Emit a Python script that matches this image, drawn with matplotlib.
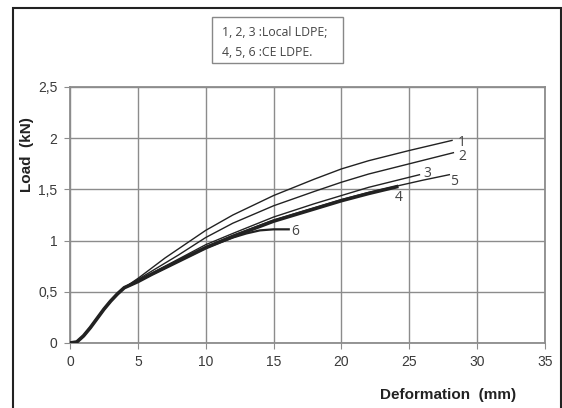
import matplotlib
matplotlib.use("Agg")
import matplotlib.pyplot as plt
from matplotlib.patches import Rectangle

# load-deformation curves
x1 = [0, 0.5, 1, 1.5, 2, 2.5, 3, 3.5, 4, 5, 6, 7, 8, 10, 12, 15, 18, 20, 22, 25, 28.2]
y1 = [0, 0.01, 0.07, 0.15, 0.24, 0.33, 0.41, 0.48, 0.54, 0.63, 0.73, 0.83, 0.92, 1.10, 1.25, 1.44, 1.60, 1.70, 1.78, 1.88, 1.98]

x2 = [0, 0.5, 1, 1.5, 2, 2.5, 3, 3.5, 4, 5, 6, 7, 8, 10, 12, 15, 18, 20, 22, 25, 28.3]
y2 = [0, 0.01, 0.07, 0.15, 0.24, 0.33, 0.41, 0.48, 0.54, 0.62, 0.70, 0.78, 0.86, 1.03, 1.17, 1.34, 1.48, 1.57, 1.65, 1.75, 1.86]

x3 = [0, 0.5, 1, 1.5, 2, 2.5, 3, 3.5, 4, 5, 6, 8, 10, 12, 15, 18, 20, 22, 25.8]
y3 = [0, 0.01, 0.07, 0.15, 0.24, 0.33, 0.41, 0.48, 0.54, 0.61, 0.68, 0.82, 0.96, 1.07, 1.23, 1.36, 1.44, 1.52, 1.645]

x4 = [0, 0.5, 1, 1.5, 2, 2.5, 3, 3.5, 4, 5, 6, 8, 10, 12, 15, 18, 20, 22, 24.2]
y4 = [0, 0.01, 0.07, 0.15, 0.24, 0.33, 0.41, 0.48, 0.54, 0.60, 0.67, 0.80, 0.93, 1.04, 1.19, 1.31, 1.39, 1.46, 1.53]

x5 = [0, 0.5, 1, 1.5, 2, 2.5, 3, 3.5, 4, 5, 6, 8, 10, 12, 15, 18, 20, 22, 24, 26, 28]
y5 = [0, 0.01, 0.07, 0.15, 0.24, 0.33, 0.41, 0.48, 0.54, 0.60, 0.67, 0.81, 0.94, 1.05, 1.20, 1.32, 1.40, 1.47, 1.53, 1.59, 1.645]

x6 = [0, 0.5, 1, 1.5, 2, 2.5, 3, 3.5, 4, 5, 6, 8, 10, 12, 13, 14, 15, 16.2]
y6 = [0, 0.01, 0.07, 0.15, 0.24, 0.33, 0.41, 0.48, 0.54, 0.60, 0.67, 0.80, 0.93, 1.03, 1.07, 1.10, 1.11, 1.11]

curve_names = ["1", "2", "3", "4", "5", "6"]
label_x = [28.9, 28.9, 26.3, 24.2, 28.3, 16.6]
label_y = [1.96, 1.82, 1.66, 1.42, 1.58, 1.09]

x_ticks = [0, 5, 10, 15, 20, 25, 30, 35]
y_ticks = [0, 0.5, 1, 1.5, 2, 2.5]
y_tick_labels = ["0", "0,5", "1", "1,5", "2", "2,5"]


def main():
    fig = plt.figure(figsize=(5.62, 4.08), dpi=100)
    ax = fig.add_axes([70 / 562, 1 - 343 / 408, 475 / 562, 256 / 408])

    xs = [x1, x2, x3, x4, x5, x6]
    ys = [y1, y2, y3, y4, y5, y6]
    widths = [1.0, 1.0, 1.0, 2.6, 1.0, 1.6]
    for x, y, lw in zip(xs, ys, widths):
        ax.plot(x, y, color="#222222", lw=lw, solid_capstyle="butt", zorder=3)

    for name, lx, ly in zip(curve_names, label_x, label_y):
        ax.text(lx, ly, name, fontsize=10, color="#444444",
                family="Open Sans", ha="center", va="center")

    ax.set_xlim(0, 35)
    ax.set_ylim(0, 2.5)
    ax.set_xticks(x_ticks)
    ax.set_yticks(y_ticks)
    ax.set_yticklabels(y_tick_labels)
    ax.grid(True, color="#8c8c8c", lw=1.0)
    ax.set_axisbelow(True)
    for s in ax.spines.values():
        s.set_color("#8c8c8c")
        s.set_linewidth(1.3)
    ax.tick_params(direction="out", length=4, color="#8c8c8c",
                   labelsize=10, labelcolor="#3a3a3a", pad=5)
    for t in ax.get_xticklabels() + ax.get_yticklabels():
        t.set_family("Liberation Sans")

    fig.text(516 / 562, 1 - 395 / 408, "Deformation  (mm)", ha="right", va="center",
             fontsize=11, fontweight="bold", family="Liberation Sans", color="#222222")
    fig.text(27 / 562, 1 - 155 / 408, "Load  (kN)", ha="center", va="center",
             rotation=90, fontsize=11, fontweight="bold", family="Liberation Sans",
             color="#222222")

    # note box above the plot
    fig.patches.append(Rectangle((212 / 562, 1 - 63 / 408), 131 / 562, 46 / 408,
                                 transform=fig.transFigure, fill=False,
                                 edgecolor="#888888", lw=1.0))
    fig.text(222 / 562, 1 - 32 / 408, "1, 2, 3 :Local LDPE;", fontsize=8.8,
             family="Open Sans", color="#444444", va="center")
    fig.text(222 / 562, 1 - 52 / 408, "4, 5, 6 :CE LDPE.", fontsize=8.8,
             family="Open Sans", color="#444444", va="center")

    # outer frame
    fig.patches.append(Rectangle((13 / 562, -0.02), 548 / 562, 1.02 - 8 / 408,
                                 transform=fig.transFigure, fill=False,
                                 edgecolor="#222222", lw=1.5))

    fig.savefig("out.png", dpi=100)


main()
